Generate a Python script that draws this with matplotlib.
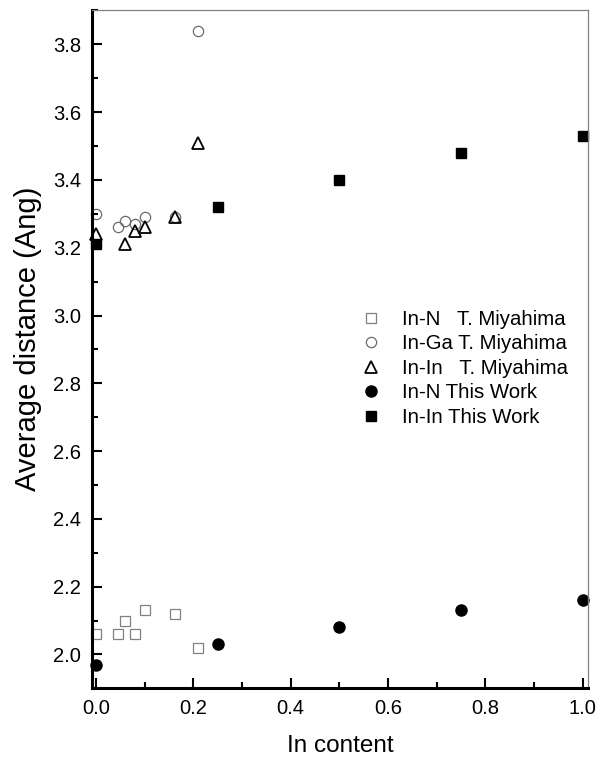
import matplotlib
matplotlib.use("Agg")
import matplotlib.pyplot as plt
from matplotlib.ticker import MultipleLocator

plt.rcParams['font.family'] = ['Liberation Sans', 'DejaVu Sans']

# T. Miyahima reference values
inn_ref_x = [0.0, 0.046, 0.08, 0.06, 0.10, 0.163, 0.21]
inn_ref_y = [2.06, 2.06, 2.06, 2.10, 2.13, 2.12, 2.02]

inga_ref_x = [0.0, 0.046, 0.06, 0.08, 0.10, 0.163, 0.21]
inga_ref_y = [3.30, 3.26, 3.28, 3.27, 3.29, 3.29, 3.84]

inin_ref_x = [0.0, 0.06, 0.08, 0.10, 0.163, 0.21]
inin_ref_y = [3.24, 3.21, 3.25, 3.26, 3.29, 3.51]

# this work
content = [0.0, 0.25, 0.5, 0.75, 1.0]
inn_work = [1.97, 2.03, 2.08, 2.13, 2.16]
inin_work = [3.21, 3.32, 3.40, 3.48, 3.53]

labels = ["In-N   T. Miyahima", "In-Ga T. Miyahima", "In-In   T. Miyahima",
          "In-N This Work", "In-In This Work"]

fig = plt.figure(figsize=(6.02, 7.59), dpi=100)
ax = fig.add_axes([0.1533, 0.0931, 0.8229, 0.8931])

ax.plot(inn_ref_x, inn_ref_y, ls='none', marker='s', ms=6.5, mfc='white',
        mec='#808080', mew=0.9, label=labels[0], clip_on=False)
ax.plot(inga_ref_x, inga_ref_y, ls='none', marker='o', ms=7.4, mfc='none',
        mec='#6a6a6a', mew=0.9, label=labels[1], clip_on=False)
ax.plot(inin_ref_x, inin_ref_y, ls='none', marker='^', ms=9, mfc='none',
        mec='black', mew=1.3, label=labels[2], clip_on=False)
ax.plot(content, inn_work, ls='none', marker='o', ms=8, color='black',
        label=labels[3], clip_on=False)
ax.plot(content, inin_work, ls='none', marker='s', ms=7, color='black',
        label=labels[4], clip_on=False)

ax.set_xlim(-0.0076, 1.0103)
ax.set_ylim(1.90, 3.90)
ax.xaxis.set_major_locator(MultipleLocator(0.2))
ax.xaxis.set_minor_locator(MultipleLocator(0.1))
ax.yaxis.set_major_locator(MultipleLocator(0.2))
ax.yaxis.set_minor_locator(MultipleLocator(0.1))

ax.tick_params(which='both', direction='in', top=False, right=False,
               width=1.5, colors='black')
ax.tick_params(which='major', length=7, pad=8, labelsize=14.5)
ax.tick_params(which='minor', length=4)

for side in ['left', 'bottom']:
    ax.spines[side].set_linewidth(2.2)
    ax.spines[side].set_color('black')
for side in ['top', 'right']:
    ax.spines[side].set_linewidth(0.9)
    ax.spines[side].set_color('#808080')

ax.set_xlabel("In content", fontsize=17.5, labelpad=12)
ax.set_ylabel("Average distance (Ang)", fontsize=21, labelpad=6)
ax.yaxis.set_label_coords(-0.102, 0.515)

ax.legend(loc='upper left', bbox_to_anchor=(0.599, 0.592),
          bbox_transform=fig.transFigure, frameon=False, fontsize=14.7,
          handlelength=1.0, handletextpad=1.05, labelspacing=0.27,
          borderpad=0, borderaxespad=0)

fig.savefig("out.png", dpi=100)
